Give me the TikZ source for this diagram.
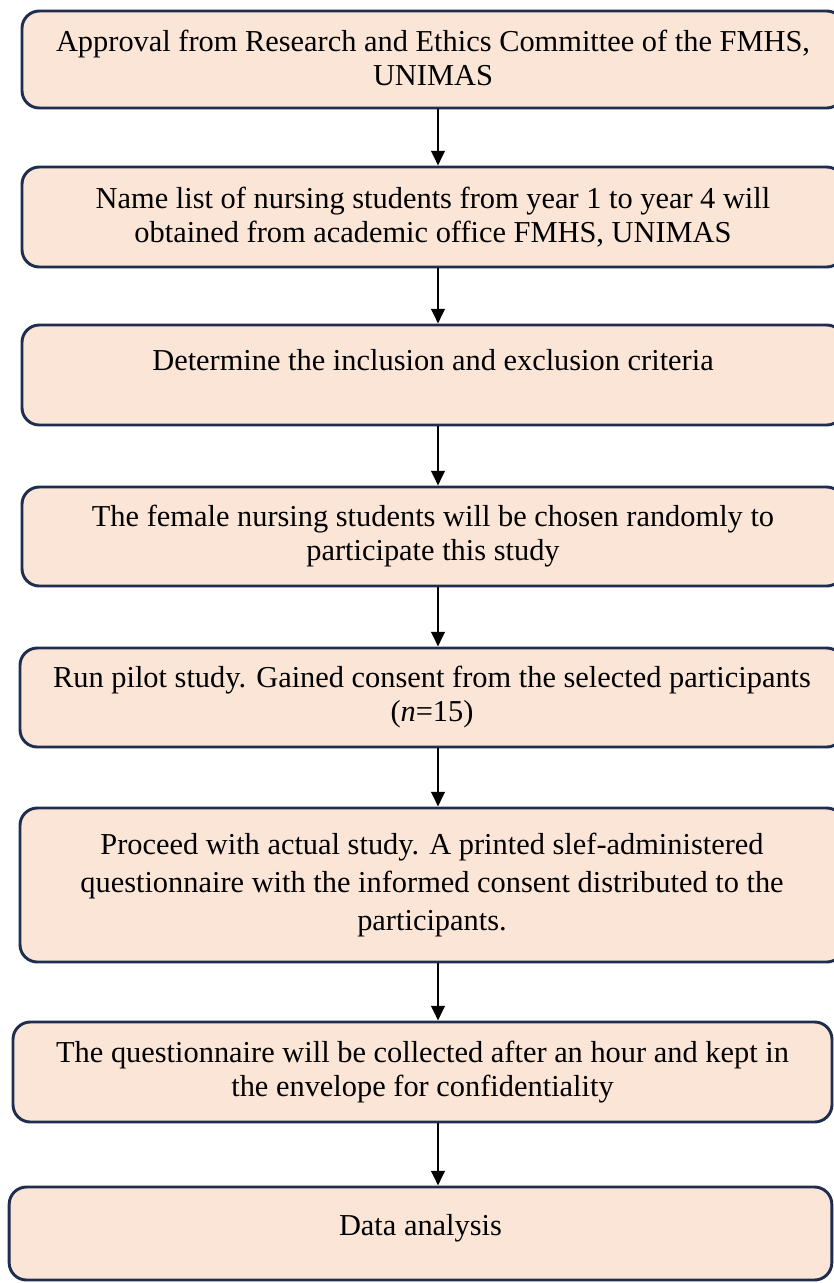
\documentclass[tikz,border=0pt]{standalone}
\usepackage{fontspec}
\setmainfont{Liberation Serif}
\usepackage{xcolor}
\usetikzlibrary{arrows.meta}
\definecolor{stepfill}{HTML}{FBE5D6}
\definecolor{stepline}{HTML}{1F2E4E}

\begin{document}
\begin{tikzpicture}[x=0.75pt, y=-0.75pt,
  stepbox/.style={rectangle, draw=stepline, line width=2.2pt, fill=stepfill,
    rounded corners=13pt, minimum width=616.5pt, minimum height=75pt,
    align=center, inner sep=0pt, font=\fontsize{22.8}{25.5}\selectfont},
  arr/.style={-{Triangle[length=11pt,width=10pt]}, line width=2.2pt, color=black}
]
  \useasboundingbox (0,0) rectangle (833,1283);
  \coordinate (spine) at (438,0);

  \node[stepbox, minimum height=72.75pt, text depth=2pt] (ethics) at (433,59.5)
    {Approval from Research and Ethics Committee of the FMHS,\\ UNIMAS};
  \node[stepbox] (namelist) at (433,217)
    {Name list of nursing students from year 1 to year 4 will\\
     obtained from academic office FMHS, UNIMAS};
  \node[stepbox, text depth=22pt] (criteria) at (433,375)
    {Determine the inclusion and exclusion criteria};
  \node[stepbox, minimum height=74.25pt] (random) at (433,536.5)
    {The female nursing students will be chosen randomly to\\
     participate this study};
  \node[stepbox, minimum width=618pt, minimum height=74.25pt] (pilot) at (432,697.5)
    {Run pilot study. Gained consent from the selected participants\\
     (\textit{n}=15)};
  \node[stepbox, minimum width=618pt, minimum height=115.5pt,
    font=\fontsize{22.8}{28.5}\selectfont] (actual) at (432,885)
    {Proceed with actual study. A printed slef-administered\\
     questionnaire with the informed consent distributed to the\\
     participants.};
  \node[stepbox, minimum width=614.25pt] (collect) at (422.5,1072)
    {The questionnaire will be collected after an hour and kept in\\
     the envelope for confidentiality};
  \node[stepbox, minimum width=617pt, minimum height=69.75pt, text depth=12.5pt] (analysis) at (420.5,1233.5)
    {Data analysis};

  \draw[arr] (ethics.south -| spine) -- (namelist.north -| spine);
  \draw[arr] (namelist.south -| spine) -- (criteria.north -| spine);
  \draw[arr] (criteria.south -| spine) -- (random.north -| spine);
  \draw[arr] (random.south -| spine) -- (pilot.north -| spine);
  \draw[arr] (pilot.south -| spine) -- (actual.north -| spine);
  \draw[arr] (actual.south -| spine) -- (collect.north -| spine);
  \draw[arr] (collect.south -| spine) -- (analysis.north -| spine);
\end{tikzpicture}
\end{document}
